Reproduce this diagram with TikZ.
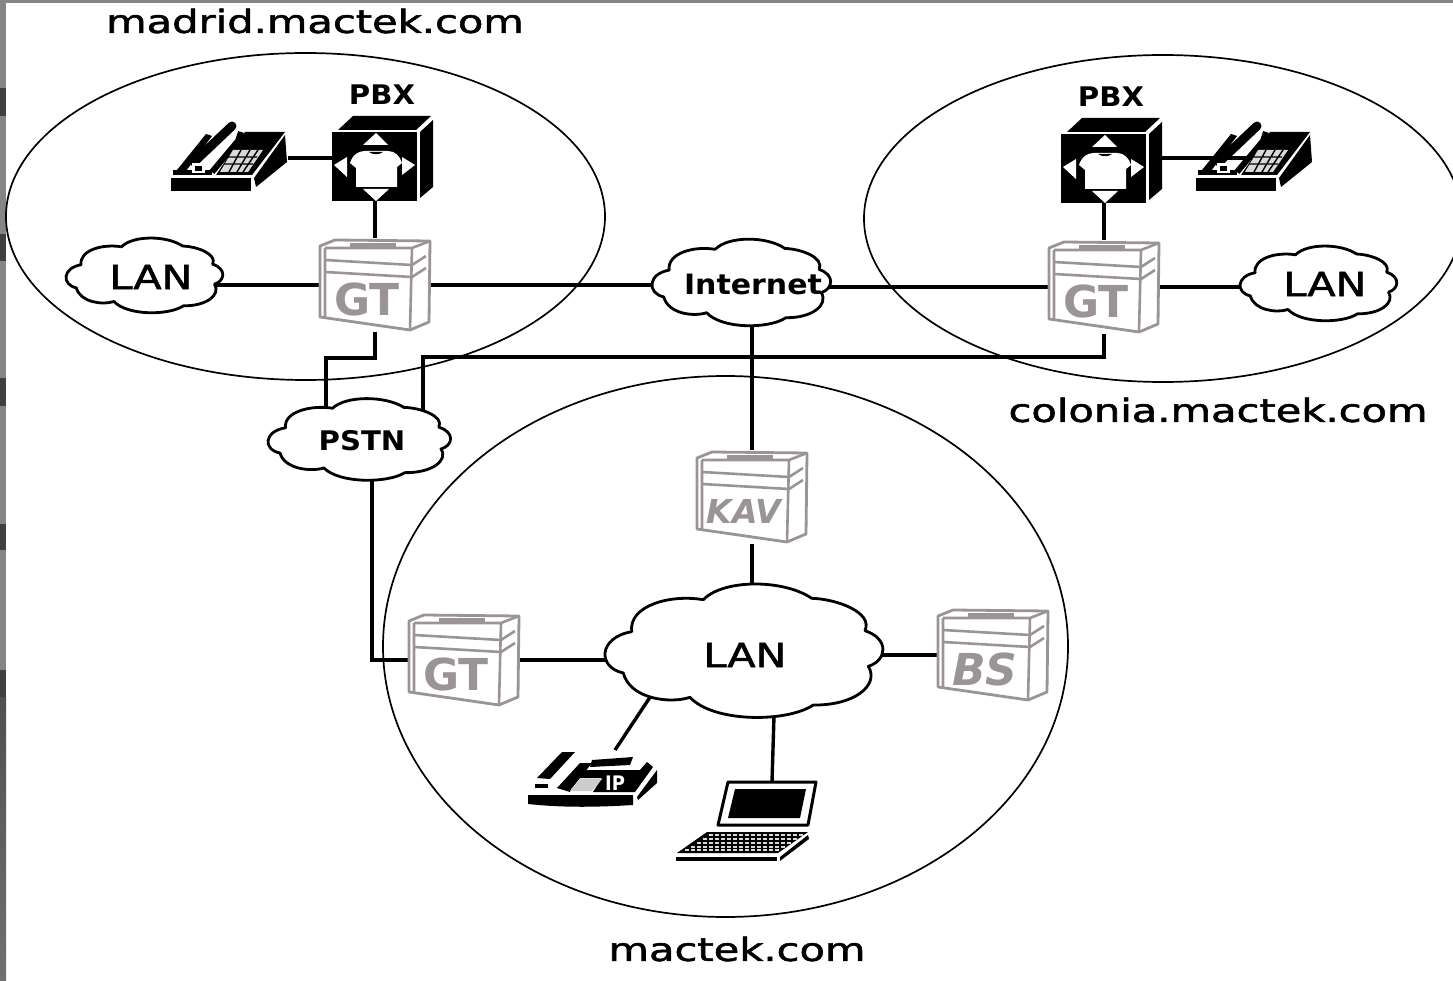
\documentclass[tikz,border=0pt]{standalone}
\usepackage{fontspec}
\usepackage{graphicx}
\setmainfont{DejaVu Sans}
\newfontfamily\semib[FakeBold=1.5]{DejaVu Sans}
\usetikzlibrary{shapes.geometric,calc}
\pgfdeclarelayer{back}\pgfdeclarelayer{conn}
\pgfsetlayers{back,conn,main}
\definecolor{srvgray}{HTML}{9A9594}
\definecolor{stripA}{HTML}{858585}
\definecolor{stripB}{HTML}{3F3F3F}
\definecolor{stripC}{HTML}{505050}
\definecolor{stripD}{HTML}{707070}
\newcommand{\wt}[3]{{\fontsize{#2}{#2}\selectfont\semib\scalebox{#1}[1]{#3}}}
\newcommand{\wb}[3]{{\fontsize{#2}{#2}\selectfont\bfseries\scalebox{#1}[1]{#3}}}
\tikzset{
  zone/.style={draw=black,line width=1.7pt,ellipse,inner sep=0pt},
  conn/.style={draw=black,line width=3.4pt},
  dev/.style={inner sep=0pt,outer sep=0pt,rectangle},
  lbl/.style={inner sep=0pt,outer sep=0pt},
  srvtext/.initial={},
  cloudp/.pic={
    \draw[black,fill=white,line width=2.8pt,line join=round]
      (-41.7,-50.3) .. controls (-21.7,-71) and (38.3,-71) .. (66.7,-51.7)
      .. controls (91.7,-51) and (128.3,-37.7) .. (120,-19.3)
      .. controls (145,-11) and (141.7,10.7) .. (123.3,16.3)
      .. controls (135,35.7) and (108.3,55.7) .. (68.3,55)
      .. controls (41.7,72.7) and (-31.7,72.7) .. (-55,47.3)
      .. controls (-75,54) and (-115,49) .. (-121.7,23)
      .. controls (-148,17.3) and (-146.7,-12.7) .. (-113.3,-18.3)
      .. controls (-116.7,-44.3) and (-75,-56) .. cycle;
  },
  srv/.pic={
    \draw[srvgray,line width=2.8pt,fill=white,line join=round]
      (-55,-39)--(-40,-45)--(55,-44)--(54,37)--(35,45)--(-55,32)--cycle;
    \draw[srvgray,line width=2.6pt,line join=round]
      (-50,-37)--(37,-37)--(55,-44)
      (37,-37)--(35,45)
      (-50,-37)--(-50,32)
      (-50,-25)--(37,-20)--(51,-29)
      (-50,-13)--(37,-8)--(51,-17);
    \draw[srvgray,line width=3.4pt] (-25,-40)--(21,-40);
    \node[lbl,text=srvgray] at (-8,14) {\pgfkeysvalueof{/tikz/srvtext}};
  },
  pbxbox/.pic={
    \fill[black] (-43,-28) rectangle (42,41);
    \fill[black] (-37,-30)--(-22,-44)--(56,-44)--(41,-30)--cycle;
    \fill[black] (45,-28)--(58,-40)--(58,27)--(45,38)--cycle;
    \fill[white] (1,-27)--(-12,-15)--(13,-15)--cycle
      (1,41)--(-12,29)--(14,29)--cycle
      (-41,5)--(-28,-3)--(-28,17)--cycle
      (40,5)--(27,-3)--(27,15)--cycle;
    \fill[white] (-25,3) .. controls (-22,-6) and (-16,-9) .. (-10,-9)
      -- (13,-9) .. controls (20,-9) and (25,-4) .. (27,3)
      -- (22,7)--(22,27)--(-19,27)--(-19,8)--cycle;
    \fill[black] (-6,-8) .. controls (-2,-5) and (4,-5) .. (8,-8)--cycle;
  },
  deskphone/.pic={
    \fill[black] (-59,20) rectangle (21,33);
    \fill[black] (24,20)--(55,-23)--(57,4)--(26,29)--cycle;
    \fill[black] (-14,17)--(15,-26)--(55,-26)--(22,17)--cycle;
    \fill[black] (-57,17)--(-24,-24)--(-18,-22)--(-47,17)--cycle;
    \draw[black,line width=9pt,line cap=round] (-36,4)--(2,-32);
    \draw[black,line width=5pt] (-57,15)--(-18,15);
    \draw[black,line width=6pt] (-18,14)--(8,-17)--(11,-26);
    \fill[white] (-38,5) rectangle (-25,15);
    \fill[black] (-35,8) rectangle (-28,13);
    \fill[white!85!black] (-10,14)--(3,-8)--(33,-8)--(18,14)--cycle;
    \draw[black,line width=1.4pt] (-2,-1)--(27,-1) (-6,6)--(23,6)
      (11,-8)--(-1,14) (20,-8)--(7,14) (28,-8)--(13,14);
  },
  ipset/.pic={
    \fill[black] (-62,5)--(43,5)--(43,15)
      .. controls (10,17) and (-25,18) .. (-62,14)--cycle;
    \fill[black] (47,7)--(67,-20)--(67,-7)--(48,10)--cycle;
    \fill[black] (-33,-2)--(-3,-20)--(50,-20)--(57,-28)--(63,-23)--(45,2)--(3,2)--(12,-12)--(-14,-12)--(-20,2)--cycle;
    \fill[black] (2,-30)--(43,-33)--(40,-25)--(0,-23)--cycle;
    \fill[black] (-53,-12)--(-28,-38)--(-15,-38)--(-40,-11)--cycle;
    \fill[black] (-33,-2)--(-10,-27)--(2,-27)--(-18,-2)--cycle;
    \fill[black] (-55,-6) rectangle (-42,-2);
    \fill[white!80!black] (-20,1)--(-10,-11)--(12,-11)--(2,1)--cycle;
    \node[lbl,text=white] at (25,-7) {\wb{0.9}{20}{IP}};
  },
  laptopset/.pic={
    \draw[black,line width=3pt,fill=white,line join=round] (-17,-38)--(71,-38)--(63,5)--(-27,5)--cycle;
    \fill[black] (-10,-31)--(61,-31)--(55,-2)--(-17,-2)--cycle;
    \fill[black] (-38,12)--(63,12)--(33,33)--(-68,33)--cycle;
    \foreach \k/\a/\b in {15/-36/58,19/-42/52,23/-48/46,27/-54/40,30/-60/34}
      \draw[white!85!black,line width=1.4pt,dash pattern=on 4pt off 2pt] (\a,\k)--(\b,\k);
    \fill[black] (-69,37) rectangle (32,41);
    \fill[black] (35,37)--(63,15)--(64,19)--(35,41)--cycle;
  }
}
\begin{document}
\begin{tikzpicture}[x=1pt,y=-1pt]
\useasboundingbox (0,0) rectangle (1453,981);
\begin{pgfonlayer}{back}
  \fill[white] (0,0) rectangle (1453,981);
  \fill[stripA] (0,0) rectangle (1453,3.5);
  \shade[top color=stripC,bottom color=stripD] (0,697) rectangle (6,981);
  \fill[stripA] (0,0) rectangle (6,697);
  \foreach \t/\b in {88/116,234/261,378/406,524/550,670/697}
    \fill[stripB] (0,\t) rectangle (6,\b);
  \node[zone,minimum width=599pt,minimum height=327pt] (madrid) at (305.5,216.5) {};
  \node[zone,minimum width=598pt,minimum height=327pt] (colonia) at (1163,218.5) {};
  \node[zone,minimum width=685pt,minimum height=541pt] (mactek) at (725.5,646.5) {};
\end{pgfonlayer}

% labels
\node[lbl] (tmadrid) at (315,21) {\wt{1.3}{32}{madrid.mactek.com}};
\node[lbl] (tcolonia) at (1218,410) {\wt{1.3}{32}{colonia.mactek.com}};
\node[lbl] (tmactek) at (737,949) {\wt{1.3}{32}{mactek.com}};
\node[lbl] (tpbxa) at (382,95) {\wb{1.08}{27}{PBX}};
\node[lbl] (tpbxb) at (1111,97) {\wb{1.08}{27}{PBX}};

% clouds
\node[dev,minimum width=158pt,minimum height=75pt] (lana) at (145,275) {};
\pic[xscale=.564,yscale=.56] at (lana) {cloudp};
\node[lbl] (tlana) at (151,277) {\wt{1.25}{33}{LAN}};
\node[dev,minimum width=158pt,minimum height=75pt] (lanb) at (1319,283) {};
\pic[xscale=.564,yscale=.56] at (lanb) {cloudp};
\node[lbl] (tlanb) at (1325,284) {\wt{1.25}{33}{LAN}};
\node[dev,minimum width=180pt,minimum height=87pt] (internet) at (742,282) {};
\pic[xscale=.643,yscale=.649] at (internet) {cloudp};
\node[lbl] (tinternet) at (753,284) {\wb{1.07}{28}{Internet}};
\node[dev,minimum width=184pt,minimum height=82pt] (pstn) at (360,439) {};
\pic[xscale=.657,yscale=.612] at (pstn) {cloudp};
\node[lbl] (tpstn) at (362,441) {\wb{1.08}{27}{PSTN}};
\node[dev,minimum width=280pt,minimum height=134pt] (lanc) at (745,650) {};
\pic at (lanc) {cloudp};
\node[lbl] (tlanc) at (745,655) {\wt{1.25}{33}{LAN}};

% devices
\node[dev,minimum width=110pt,minimum height=94pt] (gta) at (375,285) {};
\pic[srvtext={\fontsize{44}{44}\selectfont\bfseries GT}] at (gta) {srv};
\node[dev,minimum width=110pt,minimum height=94pt] (gtb) at (1104,287) {};
\pic[srvtext={\fontsize{44}{44}\selectfont\bfseries GT}] at (gtb) {srv};
\node[dev,minimum width=110pt,minimum height=94pt] (gtc) at (464,660) {};
\pic[srvtext={\fontsize{44}{44}\selectfont\bfseries GT}] at (gtc) {srv};
\node[dev,minimum width=110pt,minimum height=94pt] (kav) at (752,497) {};
\pic[srvtext={\fontsize{33}{33}\selectfont\bfseries\itshape KAV}] at (kav) {srv};
\node[dev,minimum width=110pt,minimum height=94pt] (bs) at (993,655) {};
\pic[srvtext={\fontsize{44}{44}\selectfont\bfseries\itshape BS}] at (bs) {srv};

\node[dev,minimum width=103pt,minimum height=85pt] (pbxa) at (384,159) {};
\pic at (375,160) {pbxbox};
\node[dev,minimum width=103pt,minimum height=85pt] (pbxb) at (1113,161) {};
\pic at (1104,162) {pbxbox};

\node[dev,minimum width=118pt,minimum height=70pt] (phonea) at (229,158) {};
\pic at (230,158) {deskphone};
\node[dev,minimum width=118pt,minimum height=70pt] (phoneb) at (1254,158) {};
\pic at (1255,158) {deskphone};

\node[dev,minimum width=130pt,minimum height=58pt] (ipp) at (592,779) {};
\pic at (590,790) {ipset};
\node[dev,minimum width=145pt,minimum height=80pt] (laptop) at (747,822) {};
\pic at (745,820) {laptopset};

% bus levels
\coordinate (busa) at (0,358);
\coordinate (busb) at (0,357);

\begin{pgfonlayer}{conn}
  \draw[conn] (phonea.east) -- (phonea.east -| pbxa.west);
  \draw[conn] (gta.north) -- (gta.north |- pbxa.south);
  \draw[conn] (phoneb.center) -- ([xshift=-8pt]phoneb.center -| pbxb.east);
  \draw[conn] (gtb.north) -- (gtb.north |- pbxb.south);
  \draw[conn] (gta.center) -- (gta.center -| lana.center);
  \draw[conn] (gta.center) -- (gta.center -| internet.center);
  \draw[conn] (gtb.center) -- (gtb.center -| internet.center);
  \draw[conn] (gtb.center) -- (gtb.center -| lanb.center);
  \draw[conn] (gta.south) -- (gta.south |- busa) -| ([xshift=-34pt]pstn.center);
  \draw[conn] (gtb.south) -- (gtb.south |- busb) -| ([xshift=63pt]pstn.center);
  \draw[conn] (kav.north) -- (kav.north |- internet.center);
  \draw[conn] (kav.south) -- (kav.south |- lanc.center);
  \draw[conn] ([xshift=12pt]pstn.center) |- (gtc.west);
  \draw[conn] (gtc.center) -- (gtc.center -| lanc.center);
  \draw[conn] (bs.center) -- (bs.center -| lanc.center);
  \draw[conn] ([xshift=23pt]ipp.north) -- ([xshift=-75pt,yshift=-17pt]lanc.center);
  \draw[conn] ([xshift=25pt]laptop.north) -- ([xshift=31pt]lanc.center);
\end{pgfonlayer}
\end{tikzpicture}
\end{document}
